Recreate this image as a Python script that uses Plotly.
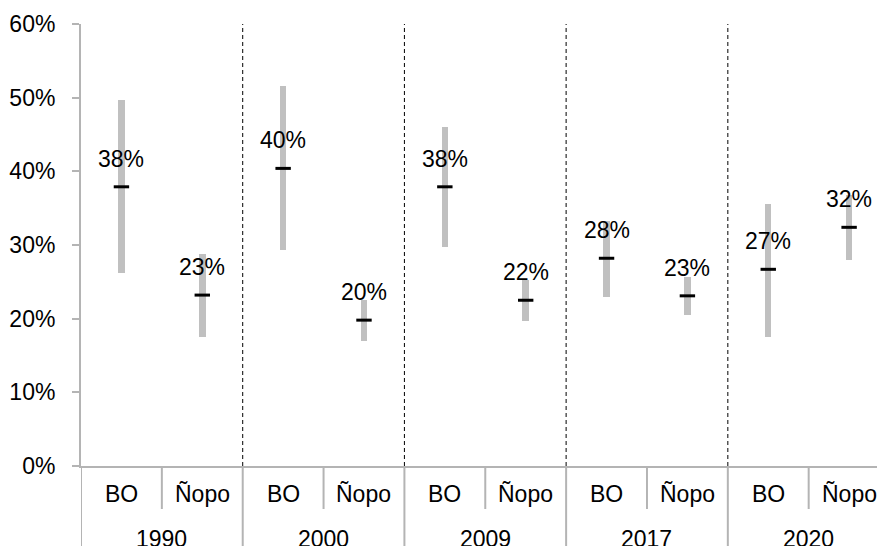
import plotly.graph_objects as go

# Estimates by year and method: lower bound, upper bound and point estimate (%)
years = ["1990", "2000", "2009", "2017", "2020"]
methods = ["BO", "Ñopo"]
low = [26.2, 17.5, 29.3, 17.0, 29.7, 19.7, 23.0, 20.5, 17.5, 28.0]
high = [49.7, 28.8, 51.6, 22.5, 46.0, 25.2, 33.2, 25.7, 35.6, 36.8]
point = [37.9, 23.2, 40.4, 19.8, 37.9, 22.5, 28.2, 23.1, 26.7, 32.4]
y_ticks = [0, 10, 20, 30, 40, 50, 60]

FONT = "Arial, Liberation Sans, sans-serif"
FS = 23
AXIS_GRAY = "#b4b4b4"
BAR_GRAY = "#c0c0c0"

n = len(point)
xpos = [i + 0.5 for i in range(n)]
x_right = 9.845  # the last group runs slightly past the canvas edge

fig = go.Figure()

# Range bars (low to high)
fig.add_trace(go.Bar(
    x=xpos, y=[h - l for h, l in zip(high, low)], base=low,
    width=0.08, marker=dict(color=BAR_GRAY, line=dict(width=0)),
    hoverinfo="skip", showlegend=False,
))

# Point estimates as short black dashes
fig.add_trace(go.Scatter(
    x=xpos, y=point, mode="markers",
    marker=dict(symbol="line-ew", size=11, line=dict(color="black", width=3)),
    hoverinfo="skip", showlegend=False,
))

# Value labels above each point estimate
for xv, pv in zip(xpos, point):
    fig.add_annotation(
        x=xv, y=pv, text=f"{round(pv)}%", showarrow=False,
        yshift=28, font=dict(family=FONT, size=FS, color="black"),
    )

shapes = []
# Dashed separators between year groups
for g in range(1, len(years)):
    shapes.append(dict(type="line", xref="x", yref="y", x0=2 * g, x1=2 * g,
                       y0=0, y1=60, line=dict(color="black", width=1, dash="4px,3px")))

# Category axis: method dividers and year dividers below the plot
plot_h = 442.0
inner_bottom = -(509 - 466) / plot_h
outer_bottom = -0.25
for i in range(1, n, 2):
    shapes.append(dict(type="line", xref="x", yref="paper", x0=i, x1=i,
                       y0=0, y1=inner_bottom, line=dict(color=AXIS_GRAY, width=2)))
for g in range(0, len(years)):
    shapes.append(dict(type="line", xref="x", yref="paper", x0=2 * g, x1=2 * g,
                       y0=0, y1=outer_bottom, line=dict(color=AXIS_GRAY, width=2)))
fig.update_layout(shapes=shapes)

method_y = -(494 - 466) / plot_h
year_y = -(539 - 466) / plot_h
for i, xv in enumerate(xpos):
    fig.add_annotation(x=xv, y=method_y, xref="x", yref="paper", text=methods[i % 2],
                       showarrow=False, font=dict(family=FONT, size=FS, color="black"),
                       yanchor="middle")
for g, yr in enumerate(years):
    fig.add_annotation(x=2 * g + 1, y=year_y, xref="x", yref="paper", text=yr,
                       showarrow=False, font=dict(family=FONT, size=FS, color="black"),
                       yanchor="middle")

fig.update_xaxes(range=[0, x_right], showgrid=False, zeroline=False,
                 showticklabels=False, ticks="", showline=True,
                 linecolor=AXIS_GRAY, linewidth=2)
fig.update_yaxes(range=[0, 60], tickmode="array", tickvals=y_ticks,
                 ticktext=[f"{t}%" for t in y_ticks],
                 showgrid=False, zeroline=False, showline=True,
                 linecolor=AXIS_GRAY, linewidth=2, ticks="outside",
                 ticklen=7, tickwidth=2, tickcolor=AXIS_GRAY,
                 ticklabelstandoff=12,
                 tickfont=dict(family=FONT, size=FS, color="black"))

fig.update_layout(
    width=877, height=546,
    margin=dict(l=81, r=0, t=24, b=80),
    plot_bgcolor="white", paper_bgcolor="white",
    bargap=0, showlegend=False,
)

fig.write_html("out.html")
